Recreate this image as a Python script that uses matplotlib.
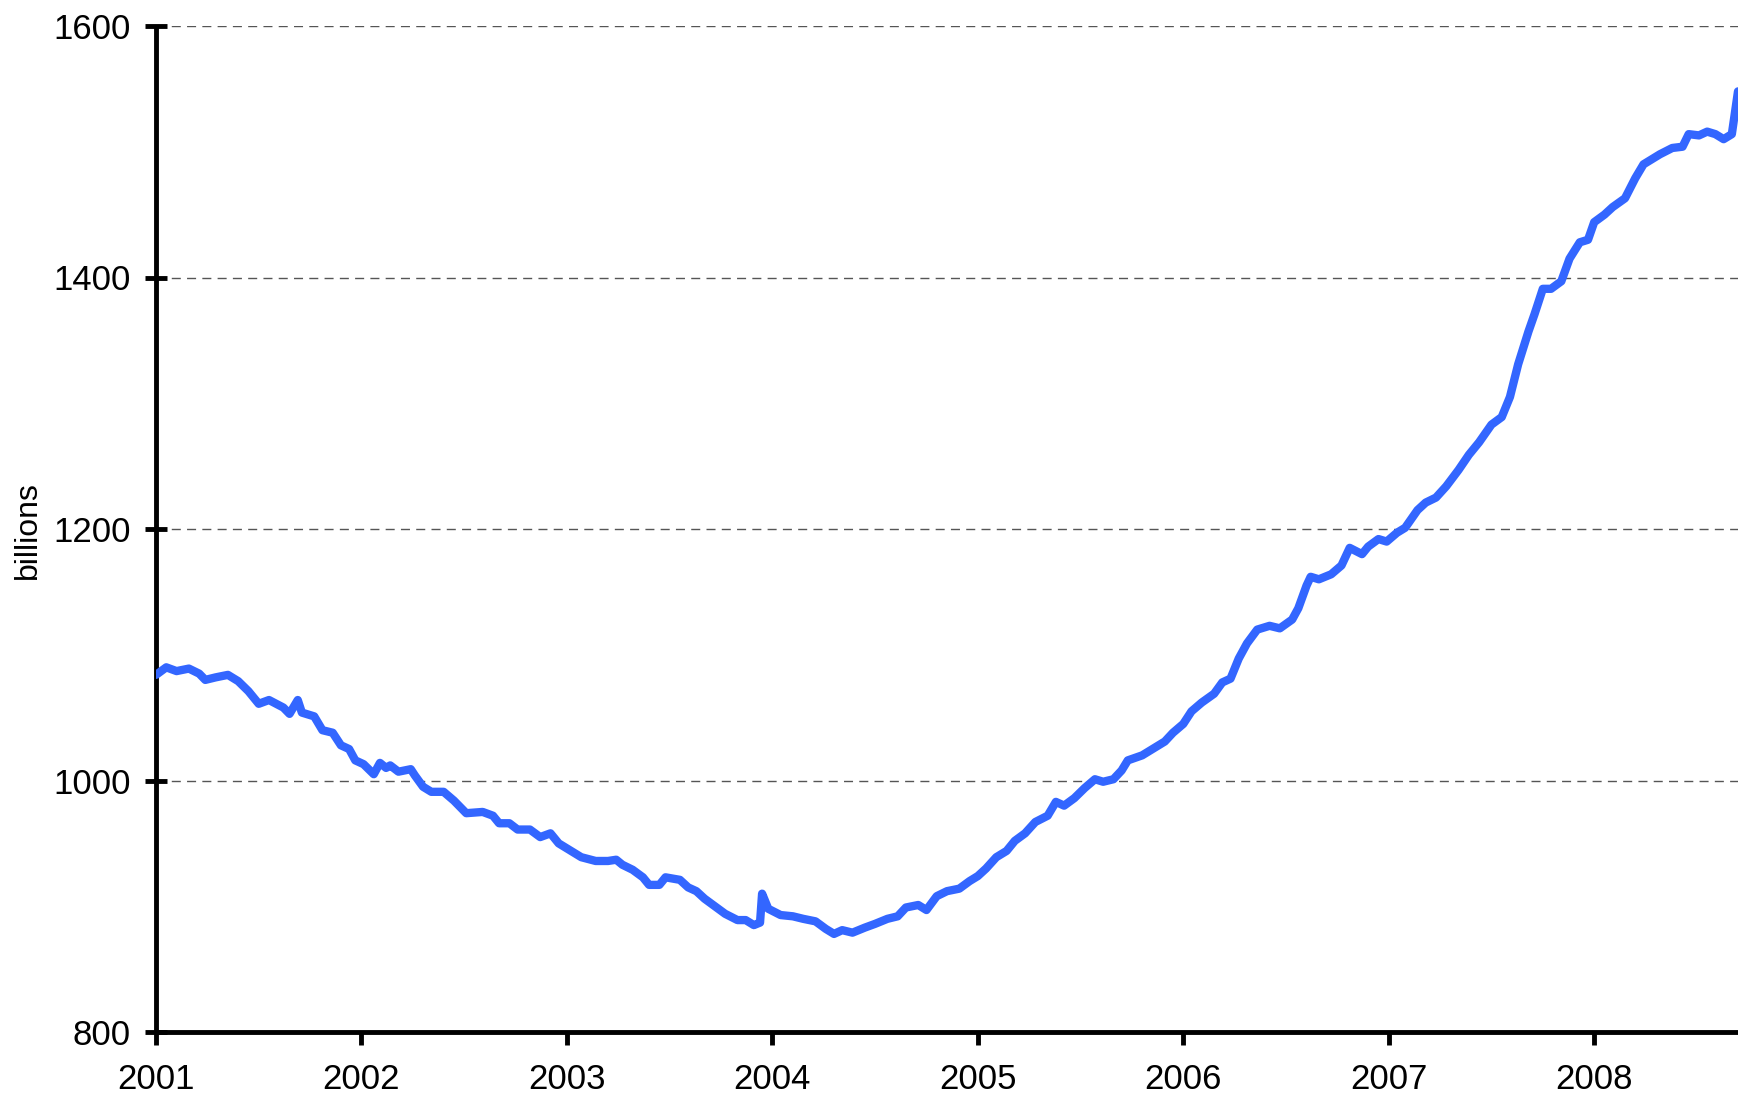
import matplotlib
matplotlib.use("Agg")
import matplotlib.pyplot as plt

plt.rcParams['font.family'] = ['Liberation Sans', 'DejaVu Sans']

# weekly-ish readings, decimal years and billions
years = [
    2001.00, 2001.05, 2001.10, 2001.16, 2001.21, 2001.24, 2001.29, 2001.35, 2001.40, 2001.45,
    2001.50, 2001.55, 2001.62, 2001.65, 2001.69, 2001.71, 2001.77, 2001.81, 2001.86, 2001.90,
    2001.94, 2001.97, 2002.01, 2002.06, 2002.09, 2002.12, 2002.14, 2002.18, 2002.24, 2002.26,
    2002.30, 2002.34, 2002.40, 2002.45, 2002.51, 2002.59, 2002.64, 2002.67, 2002.72, 2002.76,
    2002.82, 2002.87, 2002.92, 2002.96, 2003.02, 2003.07, 2003.14, 2003.20, 2003.24, 2003.27,
    2003.32, 2003.37, 2003.40, 2003.45, 2003.48, 2003.55, 2003.59, 2003.63, 2003.67, 2003.72,
    2003.77, 2003.83, 2003.87, 2003.91, 2003.94, 2003.95, 2003.98, 2004.04, 2004.10, 2004.15,
    2004.21, 2004.26, 2004.30, 2004.34, 2004.39, 2004.45, 2004.50, 2004.56, 2004.61, 2004.65,
    2004.71, 2004.75, 2004.80, 2004.85, 2004.91, 2004.96, 2005.00, 2005.04, 2005.09, 2005.14,
    2005.18, 2005.23, 2005.28, 2005.34, 2005.38, 2005.42, 2005.47, 2005.52, 2005.57, 2005.61,
    2005.66, 2005.70, 2005.73, 2005.80, 2005.85, 2005.91, 2005.95, 2006.00, 2006.04, 2006.09,
    2006.15, 2006.19, 2006.23, 2006.27, 2006.31, 2006.36, 2006.42, 2006.47, 2006.53, 2006.56,
    2006.60, 2006.62, 2006.66, 2006.72, 2006.77, 2006.81, 2006.87, 2006.90, 2006.95, 2006.99,
    2007.04, 2007.08, 2007.14, 2007.18, 2007.23, 2007.28, 2007.34, 2007.39, 2007.44, 2007.50,
    2007.55, 2007.59, 2007.63, 2007.68, 2007.71, 2007.75, 2007.79, 2007.84, 2007.88, 2007.93,
    2007.97, 2008.00, 2008.05, 2008.09, 2008.15, 2008.20, 2008.24, 2008.28, 2008.32, 2008.38,
    2008.43, 2008.46, 2008.51, 2008.55, 2008.59, 2008.63, 2008.67, 2008.70,
]
values = [
    1084, 1090, 1087, 1089, 1085, 1080, 1082, 1084, 1079, 1071,
    1061, 1064, 1058, 1053, 1064, 1054, 1051, 1040, 1038, 1028,
    1025, 1016, 1013, 1005, 1014, 1010, 1012, 1007, 1009, 1004,
    995, 991, 991, 984, 974, 975, 972, 966, 966, 961,
    961, 955, 958, 950, 944, 939, 936, 936, 937, 933,
    929, 923, 917, 917, 923, 921, 915, 912, 906, 900,
    894, 889, 889, 885, 887, 910, 898, 893, 892, 890,
    888, 882, 878, 881, 879, 883, 886, 890, 892, 899,
    901, 897, 908, 912, 914, 920, 924, 930, 939, 944,
    952, 958, 967, 972, 983, 980, 986, 994, 1001, 999,
    1001, 1008, 1016, 1020, 1025, 1031, 1038, 1045, 1055, 1062,
    1069, 1078, 1081, 1097, 1109, 1120, 1123, 1121, 1128, 1137,
    1155, 1162, 1160, 1164, 1171, 1185, 1180, 1186, 1192, 1190,
    1197, 1201, 1215, 1221, 1225, 1234, 1247, 1259, 1269, 1283,
    1289, 1305, 1331, 1357, 1371, 1391, 1391, 1397, 1415, 1428,
    1430, 1444, 1450, 1456, 1463, 1479, 1490, 1494, 1498, 1503,
    1504, 1514, 1513, 1516, 1514, 1510, 1514, 1548,
]

year_ticks = [2001, 2002, 2003, 2004, 2005, 2006, 2007, 2008]
value_ticks = [800, 1000, 1200, 1400, 1600]

fig = plt.figure(figsize=(17.38, 10.97), dpi=100)
ax = fig.add_axes([156 / 1738, 65 / 1097, 1 - 156 / 1738, (1032 - 26) / 1097])

ax.plot(years, values, color='#3366ff', linewidth=6, solid_joinstyle='round',
        solid_capstyle='round', zorder=3)

ax.set_xlim(2001, 2008.70)
ax.set_ylim(800, 1600)
ax.set_xticks(year_ticks)
ax.set_xticklabels([str(y) for y in year_ticks])
ax.set_yticks(value_ticks)

ax.grid(axis='y', color='#555555', linewidth=1.0, linestyle=(0, (6.5, 4.5)))
ax.grid(axis='x', visible=False)

for side in ['top', 'right']:
    ax.spines[side].set_visible(False)
for side in ['left', 'bottom']:
    ax.spines[side].set_linewidth(3.5)
    ax.spines[side].set_capstyle('butt')

ax.tick_params(axis='y', direction='inout', length=16, width=3.5, pad=10, labelsize=25)
ax.tick_params(axis='x', direction='out', length=9, width=3.5, pad=13, labelsize=25)

fig.text(28 / 1738, 1 - 530 / 1097, 'billions', rotation=90, ha='center', va='center',
         fontsize=23)

fig.savefig('out.png', dpi=100)
